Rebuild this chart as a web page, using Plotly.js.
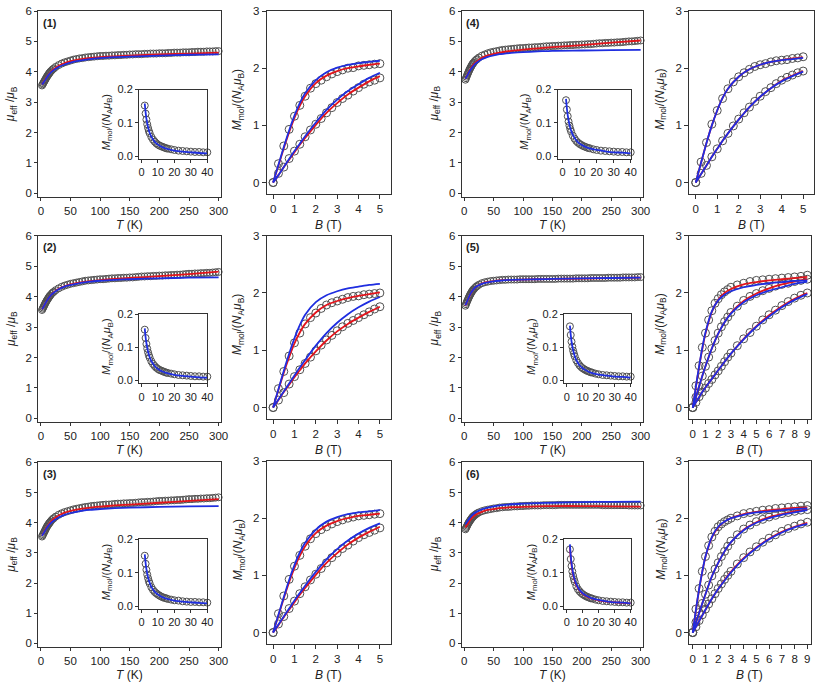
<!DOCTYPE html>
<html><head><meta charset="utf-8">
<script src="https://cdn.plot.ly/plotly-3.0.1.min.js"></script>
<style>html,body{margin:0;padding:0;background:#fff}#c{width:817px;height:683px}</style>
</head><body><div id="c"></div>
<script>
// ---------- temperature-dependence data (left panels) ----------
const T_DATA = [2,3,4,5,6,7,8,9,10,11,12,13,14,15,16,18,20,22,
  25,30,35,40,45,50,55,60,65,70,
  75,80,85,90,95,100,105,110,115,120,
  125,130,135,140,145,150,155,160,165,170,
  175,180,185,190,195,200,205,210,215,220,
  225,230,235,240,245,250,255,260,265,270,
  275,280,285,290,295,300];
const MU1_DATA = [3.55,3.59,3.62,3.66,3.69,3.73,3.76,3.80,3.83,3.86,3.89,3.92,3.95,3.97,4.00,4.04,4.08,4.11,
  4.16,4.22,4.27,4.31,4.34,4.37,4.40,4.42,4.44,4.45,
  4.47,4.48,4.49,4.50,4.51,4.52,4.52,4.53,4.53,4.54,
  4.54,4.55,4.55,4.56,4.56,4.57,4.57,4.58,4.58,4.58,
  4.59,4.59,4.60,4.60,4.60,4.61,4.61,4.61,4.62,4.62,
  4.63,4.63,4.63,4.64,4.64,4.64,4.65,4.65,4.66,4.66,
  4.66,4.67,4.67,4.67,4.68,4.68];
const MU2_DATA = [3.56,3.60,3.64,3.68,3.72,3.76,3.80,3.83,3.87,3.90,3.93,3.96,3.99,4.02,4.04,4.09,4.13,4.16,
  4.21,4.27,4.32,4.36,4.39,4.42,4.44,4.46,4.48,4.50,
  4.52,4.53,4.54,4.55,4.56,4.57,4.57,4.58,4.59,4.60,
  4.60,4.61,4.61,4.62,4.62,4.63,4.63,4.64,4.65,4.66,
  4.66,4.67,4.67,4.68,4.68,4.69,4.69,4.70,4.70,4.71,
  4.71,4.72,4.72,4.73,4.74,4.75,4.75,4.76,4.76,4.77,
  4.77,4.78,4.78,4.79,4.80,4.81];
const MU3_DATA = [3.54,3.58,3.62,3.66,3.70,3.74,3.78,3.82,3.86,3.89,3.92,3.95,3.98,4.00,4.03,4.08,4.12,4.15,
  4.20,4.26,4.31,4.35,4.38,4.41,4.44,4.46,4.48,4.50,
  4.52,4.53,4.55,4.56,4.57,4.58,4.59,4.60,4.60,4.61,
  4.62,4.63,4.63,4.64,4.64,4.65,4.65,4.66,4.67,4.68,
  4.68,4.69,4.69,4.70,4.71,4.72,4.72,4.73,4.73,4.74,
  4.74,4.75,4.75,4.76,4.77,4.78,4.78,4.79,4.79,4.80,
  4.80,4.81,4.81,4.82,4.83,4.84];
const MU4_DATA = [3.74,3.79,3.84,3.89,3.94,3.98,4.03,4.07,4.11,4.15,4.18,4.22,4.25,4.28,4.30,4.35,4.39,4.42,
  4.47,4.53,4.57,4.61,4.64,4.66,4.68,4.70,4.72,4.73,
  4.74,4.75,4.76,4.77,4.78,4.78,4.79,4.80,4.80,4.81,
  4.81,4.82,4.83,4.84,4.84,4.85,4.85,4.86,4.86,4.87,
  4.87,4.88,4.88,4.89,4.89,4.90,4.90,4.91,4.91,4.92,
  4.93,4.94,4.94,4.95,4.95,4.96,4.96,4.97,4.97,4.98,
  4.99,5.00,5.00,5.01,5.02,5.03];
const MU5_DATA = [3.70,3.75,3.80,3.85,3.89,3.94,3.98,4.02,4.06,4.09,4.13,4.16,4.19,4.22,4.24,4.28,4.32,4.35,
  4.39,4.44,4.47,4.49,4.51,4.52,4.53,4.54,4.55,4.55,
  4.56,4.56,4.56,4.56,4.57,4.57,4.57,4.57,4.57,4.57,
  4.58,4.58,4.58,4.58,4.58,4.58,4.58,4.59,4.59,4.59,
  4.59,4.59,4.59,4.60,4.60,4.60,4.60,4.60,4.61,4.61,
  4.61,4.61,4.61,4.61,4.62,4.62,4.62,4.62,4.62,4.63,
  4.63,4.63,4.63,4.63,4.64,4.64];
const MU6_DATA = [3.78,3.82,3.86,3.90,3.94,3.98,4.01,4.04,4.07,4.10,4.13,4.15,4.18,4.20,4.22,4.25,4.28,4.31,
  4.34,4.38,4.41,4.43,4.45,4.47,4.48,4.50,4.51,4.52,
  4.52,4.53,4.54,4.54,4.55,4.55,4.56,4.56,4.57,4.57,
  4.57,4.57,4.58,4.58,4.58,4.58,4.58,4.59,4.59,4.59,
  4.59,4.59,4.59,4.59,4.59,4.59,4.59,4.59,4.59,4.59,
  4.59,4.59,4.58,4.58,4.58,4.58,4.58,4.58,4.58,4.58,
  4.58,4.57,4.57,4.57,4.57,4.57];

const T_FIT = [2,5,10,15,20,30,40,50,60,80,100,125,150,200,250,300];
const MU1_RED  = [3.58,3.67,3.83,3.96,4.06,4.20,4.29,4.35,4.39,4.45,4.48,4.51,4.53,4.57,4.60,4.63];
const MU1_BLUE = [3.58,3.66,3.81,3.94,4.03,4.16,4.24,4.30,4.35,4.41,4.45,4.48,4.50,4.53,4.56,4.57];
const MU2_RED  = [3.58,3.68,3.86,4.00,4.11,4.26,4.34,4.40,4.44,4.50,4.54,4.58,4.61,4.67,4.74,4.82];
const MU2_BLUE = [3.58,3.68,3.86,4.00,4.10,4.24,4.33,4.38,4.42,4.48,4.52,4.55,4.57,4.60,4.62,4.63];
const MU3_RED  = [3.57,3.67,3.85,3.99,4.10,4.24,4.33,4.39,4.43,4.49,4.53,4.57,4.60,4.66,4.72,4.78];
const MU3_BLUE = [3.57,3.66,3.82,3.95,4.04,4.17,4.26,4.32,4.36,4.42,4.45,4.48,4.50,4.52,4.54,4.55];
const MU4_RED  = [3.77,3.88,4.07,4.22,4.32,4.46,4.54,4.59,4.63,4.69,4.73,4.77,4.81,4.88,4.96,5.03];
const MU4_BLUE = [3.77,3.87,4.04,4.18,4.28,4.41,4.49,4.54,4.58,4.62,4.65,4.67,4.69,4.70,4.71,4.72];
const MU5_RED  = [3.70,3.84,4.06,4.22,4.32,4.43,4.48,4.51,4.53,4.55,4.56,4.57,4.58,4.59,4.61,4.62];
const MU5_BLUE = [3.71,3.85,4.07,4.22,4.32,4.42,4.47,4.50,4.52,4.55,4.56,4.57,4.58,4.60,4.61,4.62];
const MU6_RED  = [3.84,3.93,4.08,4.19,4.27,4.36,4.42,4.45,4.48,4.51,4.52,4.54,4.55,4.55,4.54,4.53];
const MU6_BLUE = [3.95,4.03,4.17,4.28,4.35,4.44,4.50,4.54,4.57,4.61,4.63,4.65,4.66,4.68,4.69,4.70];

// ---------- insets: M vs T ----------
const IN_T = [2,2.5,3,3.5,4,4.5,5,6,7,8,9,10,11,12,13,14,15,16,18,20,22.5,25,27.5,30,32.5,35,37.5,40];
const IN1 = [0.152,0.128,0.110,0.096,0.085,0.076,0.069,0.058,0.050,0.044,0.039,0.035,0.032,0.030,0.028,0.026,0.024,0.023,0.021,0.019,0.017,0.016,0.015,0.014,0.013,0.013,0.012,0.012];
const IN2 = [0.153,0.128,0.110,0.096,0.085,0.076,0.069,0.058,0.050,0.044,0.039,0.035,0.032,0.030,0.028,0.026,0.024,0.023,0.021,0.019,0.017,0.016,0.015,0.014,0.013,0.013,0.012,0.012];
const IN3 = [0.151,0.127,0.109,0.095,0.084,0.075,0.068,0.057,0.049,0.043,0.039,0.035,0.032,0.029,0.027,0.025,0.024,0.022,0.020,0.018,0.017,0.015,0.014,0.013,0.013,0.012,0.012,0.011];
const IN4 = [0.168,0.140,0.120,0.104,0.092,0.082,0.074,0.062,0.053,0.046,0.041,0.037,0.034,0.031,0.029,0.027,0.025,0.024,0.021,0.019,0.017,0.016,0.015,0.014,0.013,0.013,0.012,0.012];
const IN5 = [0.163,0.137,0.117,0.102,0.090,0.081,0.073,0.061,0.053,0.046,0.041,0.037,0.034,0.031,0.029,0.027,0.025,0.024,0.021,0.019,0.017,0.016,0.015,0.014,0.013,0.013,0.012,0.012];
const IN6 = [0.170,0.141,0.120,0.104,0.091,0.081,0.073,0.060,0.051,0.045,0.040,0.036,0.033,0.030,0.028,0.026,0.024,0.023,0.020,0.018,0.016,0.015,0.014,0.013,0.012,0.012,0.011,0.011];
const IN_TF = [2,2.5,3,4,5,6,8,10,12,15,20,25,30,35,40];
const IN1_BLUE = [0.158,0.132,0.113,0.087,0.070,0.059,0.044,0.035,0.029,0.023,0.017,0.014,0.012,0.010,0.009];
const IN2_BLUE = [0.157,0.131,0.113,0.087,0.070,0.059,0.044,0.035,0.029,0.023,0.017,0.014,0.012,0.010,0.009];
const IN3_BLUE = [0.155,0.130,0.111,0.086,0.070,0.058,0.044,0.035,0.029,0.023,0.017,0.014,0.012,0.010,0.009];
const IN4_BLUE = [0.172,0.144,0.123,0.095,0.077,0.064,0.048,0.038,0.032,0.025,0.019,0.015,0.012,0.011,0.009];
const IN5_BLUE = [0.165,0.138,0.118,0.091,0.074,0.062,0.046,0.037,0.031,0.024,0.018,0.015,0.012,0.011,0.009];
const IN6_BLUE = [0.185,0.152,0.129,0.098,0.079,0.066,0.049,0.039,0.032,0.025,0.019,0.015,0.012,0.011,0.009];
const IN6_RED  = [0.178,0.146,0.124,0.094,0.076,0.063,0.047,0.037,0.031,0.024,0.018,0.014,0.012,0.010,0.009];

// ---------- field-dependence data (right panels) ----------
const B5  = [0,0.25,0.5,0.75,1,1.25,1.5,1.75,2,2.25,2.5,2.75,3,3.25,3.5,3.75,4,4.25,4.5,4.75,5];
const B5F = [0,0.25,0.5,0.75,1,1.25,1.5,2,2.5,3,3.5,4,4.5,5];
const B9  = [0,0.25,0.5,0.75,1,1.25,1.5,1.75,2,2.25,2.5,2.75,3,3.5,4,4.5,5,5.5,6,6.5,7,7.5,8,8.5,9];
const B9F = [0,0.25,0.5,0.75,1,1.5,2,2.5,3,4,5,6,7,8,9];

const M1_HI = [0,0.33,0.64,0.93,1.16,1.35,1.51,1.65,1.73,1.79,1.85,1.90,1.94,1.97,2.00,2.01,2.04,2.05,2.06,2.07,2.08];
const M1_LO = [0,0.16,0.27,0.42,0.55,0.67,0.80,0.92,1.02,1.12,1.22,1.31,1.40,1.47,1.53,1.60,1.66,1.72,1.76,1.79,1.83];
const M1_HI_RED  = [0,0.30,0.60,0.88,1.13,1.34,1.51,1.74,1.87,1.95,2.00,2.03,2.06,2.08];
const M1_HI_BLUE = [0,0.31,0.62,0.91,1.17,1.39,1.56,1.79,1.93,2.01,2.06,2.09,2.11,2.13];
const M1_LO_RED  = [0,0.13,0.27,0.40,0.53,0.66,0.78,1.01,1.22,1.39,1.54,1.66,1.77,1.86];
const M1_LO_BLUE = [0,0.13,0.27,0.41,0.55,0.68,0.81,1.05,1.27,1.45,1.60,1.72,1.83,1.92];

const M2_HI = [0,0.33,0.63,0.90,1.13,1.30,1.46,1.57,1.65,1.73,1.79,1.83,1.86,1.89,1.92,1.94,1.95,1.97,1.98,1.99,2.00];
const M2_LO = [0,0.13,0.26,0.41,0.54,0.66,0.77,0.88,0.99,1.09,1.18,1.26,1.34,1.41,1.47,1.52,1.57,1.62,1.67,1.72,1.76];
const M2_HI_RED  = [0,0.31,0.61,0.88,1.12,1.31,1.46,1.66,1.79,1.86,1.91,1.95,1.98,2.01];
const M2_HI_BLUE = [0,0.32,0.64,0.94,1.21,1.44,1.62,1.84,1.96,2.03,2.08,2.11,2.14,2.16];
const M2_LO_RED  = [0,0.13,0.27,0.40,0.53,0.65,0.77,0.98,1.17,1.33,1.46,1.57,1.67,1.76];
const M2_LO_BLUE = [0,0.14,0.28,0.42,0.56,0.70,0.83,1.08,1.30,1.48,1.63,1.75,1.85,1.93];

const M3_HI = [0,0.33,0.64,0.93,1.16,1.35,1.51,1.64,1.73,1.80,1.85,1.90,1.94,1.97,2.00,2.02,2.04,2.05,2.06,2.07,2.08];
const M3_LO = [0,0.15,0.28,0.42,0.55,0.68,0.80,0.92,1.02,1.12,1.22,1.31,1.39,1.47,1.53,1.60,1.66,1.71,1.75,1.79,1.83];
const M3_HI_RED  = [0,0.30,0.60,0.88,1.13,1.34,1.51,1.74,1.87,1.95,2.00,2.04,2.06,2.08];
const M3_HI_BLUE = [0,0.31,0.62,0.92,1.18,1.40,1.57,1.80,1.94,2.02,2.07,2.10,2.12,2.14];
const M3_LO_RED  = [0,0.13,0.27,0.40,0.53,0.66,0.78,1.01,1.22,1.39,1.54,1.66,1.76,1.85];
const M3_LO_BLUE = [0,0.14,0.28,0.42,0.56,0.69,0.82,1.06,1.28,1.46,1.61,1.73,1.83,1.91];

const M4_HI = [0,0.36,0.70,1.02,1.26,1.47,1.64,1.76,1.85,1.92,1.98,2.03,2.06,2.08,2.11,2.13,2.14,2.15,2.17,2.18,2.20];
const M4_LO = [0,0.16,0.30,0.45,0.59,0.73,0.86,0.99,1.11,1.22,1.32,1.42,1.51,1.59,1.66,1.73,1.79,1.84,1.88,1.92,1.95];
const M4_HI_RED  = [0,0.35,0.69,1.00,1.26,1.48,1.64,1.85,1.98,2.06,2.11,2.14,2.17,2.19];
const M4_HI_BLUE = [0,0.35,0.69,1.00,1.26,1.48,1.64,1.85,1.98,2.06,2.11,2.14,2.16,2.18];
const M4_LO_RED  = [0,0.15,0.30,0.45,0.59,0.73,0.86,1.10,1.32,1.50,1.65,1.78,1.87,1.95];
const M4_LO_BLUE = [0,0.15,0.30,0.45,0.59,0.73,0.86,1.10,1.32,1.50,1.65,1.77,1.86,1.94];

const M5_A = [0,0.38,0.73,1.05,1.30,1.53,1.69,1.82,1.90,1.97,2.02,2.06,2.10,2.14,2.17,2.20,2.22,2.23,2.24,2.25,2.26,2.27,2.28,2.29,2.31];
const M5_B = [0,0.18,0.37,0.55,0.72,0.88,1.03,1.17,1.30,1.41,1.50,1.58,1.66,1.77,1.87,1.94,1.99,2.04,2.08,2.12,2.15,2.17,2.20,2.22,2.24];
const M5_C = [0,0.09,0.19,0.27,0.34,0.42,0.49,0.57,0.64,0.72,0.80,0.88,0.95,1.08,1.20,1.31,1.42,1.53,1.62,1.70,1.78,1.85,1.91,1.96,2.00];
const M5_A_RED  = [0,0.36,0.71,1.02,1.29,1.67,1.88,2.00,2.07,2.15,2.19,2.22,2.24,2.26,2.28];
const M5_A_BLUE = [0,0.37,0.72,1.04,1.31,1.68,1.87,1.97,2.03,2.10,2.14,2.17,2.19,2.21,2.22];
const M5_B_RED  = [0,0.18,0.37,0.55,0.72,1.03,1.29,1.49,1.65,1.86,1.99,2.08,2.15,2.20,2.24];
const M5_B_BLUE = [0,0.18,0.37,0.55,0.72,1.03,1.29,1.49,1.64,1.84,1.96,2.04,2.10,2.16,2.20];
const M5_C_RED  = [0,0.09,0.18,0.27,0.35,0.50,0.65,0.80,0.94,1.20,1.42,1.61,1.77,1.90,2.00];
const M5_C_BLUE = [0,0.09,0.18,0.27,0.35,0.50,0.65,0.80,0.94,1.19,1.41,1.59,1.75,1.88,1.98];

const M6_A = [0,0.41,0.77,1.07,1.33,1.52,1.67,1.77,1.85,1.90,1.94,1.97,2.00,2.04,2.08,2.10,2.12,2.14,2.15,2.17,2.18,2.19,2.20,2.21,2.22];
const M6_B = [0,0.18,0.35,0.51,0.67,0.83,0.99,1.11,1.22,1.33,1.42,1.51,1.60,1.71,1.81,1.88,1.94,1.98,2.02,2.05,2.08,2.10,2.12,2.14,2.15];
const M6_C = [0,0.10,0.21,0.31,0.41,0.50,0.59,0.68,0.77,0.85,0.93,1.00,1.07,1.20,1.31,1.41,1.50,1.58,1.65,1.71,1.77,1.82,1.86,1.90,1.93];
const M6_A_RED  = [0,0.39,0.75,1.06,1.32,1.66,1.84,1.94,2.00,2.07,2.11,2.14,2.16,2.18,2.19];
const M6_A_BLUE = [0,0.40,0.76,1.07,1.33,1.67,1.85,1.94,2.00,2.06,2.10,2.12,2.14,2.16,2.17];
const M6_B_RED  = [0,0.17,0.34,0.51,0.67,0.98,1.22,1.42,1.58,1.80,1.93,2.02,2.07,2.12,2.15];
const M6_B_BLUE = [0,0.17,0.34,0.51,0.67,0.98,1.22,1.42,1.58,1.79,1.92,2.00,2.06,2.10,2.14];
const M6_C_RED  = [0,0.10,0.20,0.30,0.40,0.59,0.76,0.92,1.06,1.30,1.49,1.64,1.76,1.85,1.92];
const M6_C_BLUE = [0,0.10,0.20,0.30,0.40,0.59,0.76,0.91,1.05,1.29,1.48,1.63,1.75,1.84,1.90];

const LABELS = ['(1)','(2)','(3)','(4)','(5)','(6)'];

// ---------- assembly ----------
const W = 817, H = 683;
const FONT = 'Liberation Sans, Arial, Helvetica, sans-serif';
const RED = '#e3141b', BLUE = '#1f2ee0', CIRC = '#505050';
const fx = p => p / W, fy = p => 1 - p / H;

const compounds = [
  {mu:[MU1_DATA,MU1_RED,MU1_BLUE], ins:[IN1,IN1_BLUE,null], B:[B5,B5F], m:[[M1_HI,M1_HI_RED,M1_HI_BLUE],[M1_LO,M1_LO_RED,M1_LO_BLUE]]},
  {mu:[MU2_DATA,MU2_RED,MU2_BLUE], ins:[IN2,IN2_BLUE,null], B:[B5,B5F], m:[[M2_HI,M2_HI_RED,M2_HI_BLUE],[M2_LO,M2_LO_RED,M2_LO_BLUE]]},
  {mu:[MU3_DATA,MU3_RED,MU3_BLUE], ins:[IN3,IN3_BLUE,null], B:[B5,B5F], m:[[M3_HI,M3_HI_RED,M3_HI_BLUE],[M3_LO,M3_LO_RED,M3_LO_BLUE]]},
  {mu:[MU4_DATA,MU4_RED,MU4_BLUE], ins:[IN4,IN4_BLUE,null], B:[B5,B5F], m:[[M4_HI,M4_HI_RED,M4_HI_BLUE],[M4_LO,M4_LO_RED,M4_LO_BLUE]]},
  {mu:[MU5_DATA,MU5_RED,MU5_BLUE], ins:[IN5,IN5_BLUE,null], B:[B9,B9F], m:[[M5_A,M5_A_RED,M5_A_BLUE],[M5_B,M5_B_RED,M5_B_BLUE],[M5_C,M5_C_RED,M5_C_BLUE]]},
  {mu:[MU6_DATA,MU6_RED,MU6_BLUE], ins:[IN6,IN6_BLUE,IN6_RED], B:[B9,B9F], m:[[M6_A,M6_A_RED,M6_A_BLUE],[M6_B,M6_B_RED,M6_B_BLUE],[M6_C,M6_C_RED,M6_C_BLUE]]}
];

// geometry (pixels)
const geo = [
  {L:[38.3,221], R:[266.7,391],   row:0, I:[139,207.3],   Ixr:[-1.5,40], Bmax:5},
  {L:[38.3,221], R:[266.7,391],   row:1, I:[139,207.3],   Ixr:[-1.5,40], Bmax:5},
  {L:[38.3,221], R:[266.7,391],   row:2, I:[139,207.3],   Ixr:[-1.5,40], Bmax:5},
  {L:[461.7,643],R:[689.3,814.3], row:0, I:[557.5,630.7], Ixr:[-3,40],   Bmax:5},
  {L:[461.7,643],R:[689.3,810.5], row:1, I:[564,630.7],   Ixr:[-1.7,40], Bmax:9},
  {L:[461.7,643],R:[689.3,810.5], row:2, I:[564,630.7],   Ixr:[-1.7,40], Bmax:9}
];
const rowsL = [[11,196.7],[235.7,421.7],[462.3,646.7]];
const rowsR = [[11,194],[235.7,419],[461,644]];
const rowsI = [[89.5,159],[314,383.3],[539.3,609]];

const traces = [];
const layout = {
  width: W, height: H, margin: {l:0,r:0,t:0,b:0},
  paper_bgcolor: '#fff', plot_bgcolor: '#fff', showlegend: false,
  font: {family: FONT, color: '#222', size: 12},
  annotations: []
};
const baseAxis = {showline:true, mirror:true, linecolor:'#333', linewidth:1, ticks:'outside',
  ticklen:4, tickcolor:'#333', tickwidth:1, showgrid:false, zeroline:false,
  tickfont:{family:FONT, size:11.5, color:'#222'}};

function setAxes(k, xd, yd, xr, yr, extraX, extraY) {
  const xs = k === 1 ? 'xaxis' : 'xaxis' + k, ys = k === 1 ? 'yaxis' : 'yaxis' + k;
  layout[xs] = Object.assign({}, baseAxis, {domain:[fx(xd[0]), fx(xd[1])], range:xr, anchor: k===1?'y':'y'+k}, extraX||{});
  layout[ys] = Object.assign({}, baseAxis, {domain:[fy(yd[1]), fy(yd[0])], range:yr, anchor: k===1?'x':'x'+k}, extraY||{});
  return [k===1?'x':'x'+k, k===1?'y':'y'+k];
}
function markers(ax, x, y, size) {
  traces.push({type:'scatter', mode:'markers', x:x, y:y, xaxis:ax[0], yaxis:ax[1], hoverinfo:'skip',
    marker:{symbol:'circle-open', size:size||7, color:CIRC, line:{width:1}}, cliponaxis:false});
}
function line(ax, x, y, color) {
  traces.push({type:'scatter', mode:'lines', x:x, y:y, xaxis:ax[0], yaxis:ax[1], hoverinfo:'skip',
    line:{color:color, width:1.8, shape:'spline', smoothing:0.8}});
}
function ann(text, x, y, opts) {
  layout.annotations.push(Object.assign({text:text, x:fx(x), y:fy(y), xref:'paper', yref:'paper',
    showarrow:false, xanchor:'center', yanchor:'middle', font:{family:FONT, size:12, color:'#222'}}, opts||{}));
}

const MU_TITLE = '<i>μ</i><sub>eff</sub> /<i>μ</i><sub>B</sub>';
const M_TITLE = '<i>M</i><sub>mol</sub>/(<i>N</i><sub>A</sub><i>μ</i><sub>B</sub>)';

let k = 1;
compounds.forEach((c, i) => {
  const g = geo[i];
  const rl = rowsL[g.row];
  let ax = setAxes(k++, g.L, rl, [-4.3, 304], [-0.11, 6], {dtick:50, tick0:0, ticklen:3}, {dtick:1, tick0:0, ticklen:3});
  markers(ax, T_DATA, c.mu[0], 7);
  line(ax, T_FIT, c.mu[1], RED);
  line(ax, T_FIT, c.mu[2], BLUE);
  ann(MU_TITLE, g.L[0] - 27, (rl[0] + rl[1]) / 2, {textangle:-90});
  ann('<i>T</i> (K)', (g.L[0] + g.L[1]) / 2, rl[1] + 28.5);
  ann('<b>' + LABELS[i] + '</b>', g.L[0] + 11.5, rl[0] + 11.5, {font:{family:FONT, size:11, color:'#222'}});
});
compounds.forEach((c, i) => {
  const g = geo[i];
  const rr = rowsR[g.row];
  const xr = g.Bmax === 5 ? [-0.3, 5.52] : [-0.27, 9.25];
  let ax = setAxes(k++, g.R, rr, xr, [-0.2, 3], {dtick:1, tick0:0, ticklen:4}, {dtick:1, tick0:0});
  c.m.forEach(s => markers(ax, c.B[0], s[0], 8));
  c.m.forEach(s => line(ax, c.B[1], s[1], RED));
  c.m.forEach(s => line(ax, c.B[1], s[2], BLUE));
  ann(M_TITLE, g.R[0] - 28, (rr[0] + rr[1]) / 2 - 3, {textangle:-90});
  ann('<i>B</i> (T)', (g.R[0] + g.R[1]) / 2, rowsL[g.row][1] + 28.5);
});
compounds.forEach((c, i) => {
  const g = geo[i];
  const ri = rowsI[g.row];
  const f11 = {family:FONT, size:11, color:'#222'};
  let ax = setAxes(k++, g.I, ri, g.Ixr, [-0.008, 0.2],
    {dtick:10, tick0:0, tickfont:f11, ticklen:3}, {dtick:0.1, tick0:0, tickformat:'.1f', tickfont:f11, ticklen:3});
  markers(ax, IN_T, c.ins[0], 7);
  if (c.ins[2]) line(ax, IN_TF, c.ins[2], RED);
  line(ax, IN_TF, c.ins[1], BLUE);
  ann(M_TITLE, g.I[0] - 32, (ri[0] + ri[1]) / 2 - 2, {textangle:-90, font:f11});
});

Plotly.newPlot('c', traces, layout, {staticPlot:true, displayModeBar:false});
</script>
</body></html>
